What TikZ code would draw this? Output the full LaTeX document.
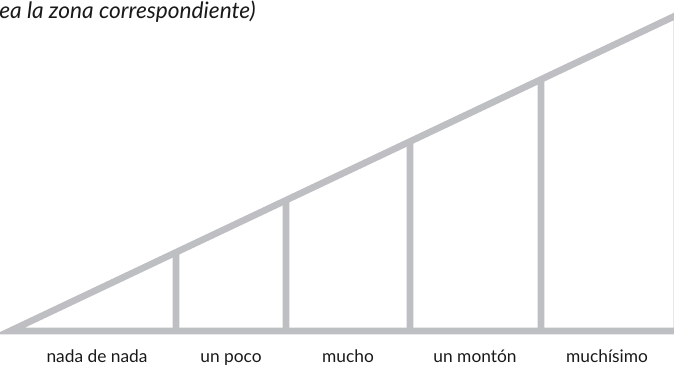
\documentclass[tikz,border=0pt]{standalone}
\usepackage{fontspec}
\setmainfont{Lato}
\usetikzlibrary{calc}
\definecolor{scalegray}{RGB}{190,191,195}
\begin{document}
\begin{tikzpicture}[
  x=0.75pt, y=-0.75pt,
  bar/.style={line width=5pt, draw=scalegray, line join=miter},
  lbl/.style={font=\fontsize{13}{15}\selectfont, text=black!90, inner sep=0pt, anchor=base}
]
  \useasboundingbox (0,0) rectangle (674,367);
  \clip (0,0) rectangle (674,367);

  % Triangulo de la escala
  \coordinate (tip) at (10,331);
  \coordinate (top) at (677,15);
  \coordinate (corner) at (677,331);
  \draw[bar] (tip) -- (top) -- (corner) -- cycle;

  % Divisiones
  \foreach \xv/\name in {176/d1, 286/d2, 410/d3, 541/d4} {
    \coordinate (\name b) at (\xv,331);
    \coordinate (\name t) at ($(tip)!{(\xv-10)/667}!(top)$);
    \draw[bar, line cap=butt] (\name b) -- (\name t);
  }

  % Etiquetas
  \node[lbl] (l1) at (97,362.5) {nada de nada};
  \node[lbl] (l2) at (231,362.5) {un poco};
  \node[lbl] (l3) at (348,362.5) {mucho};
  \node[lbl] (l4) at (475,362.5) {un montón};
  \node[lbl] (l5) at (607,362.5) {muchísimo};

  % Enunciado
  \node[lbl, font=\itshape\fontsize{17}{19}\selectfont, anchor=base west] (hint) at (-1,19) {ea la zona correspondiente)};
\end{tikzpicture}
\end{document}
